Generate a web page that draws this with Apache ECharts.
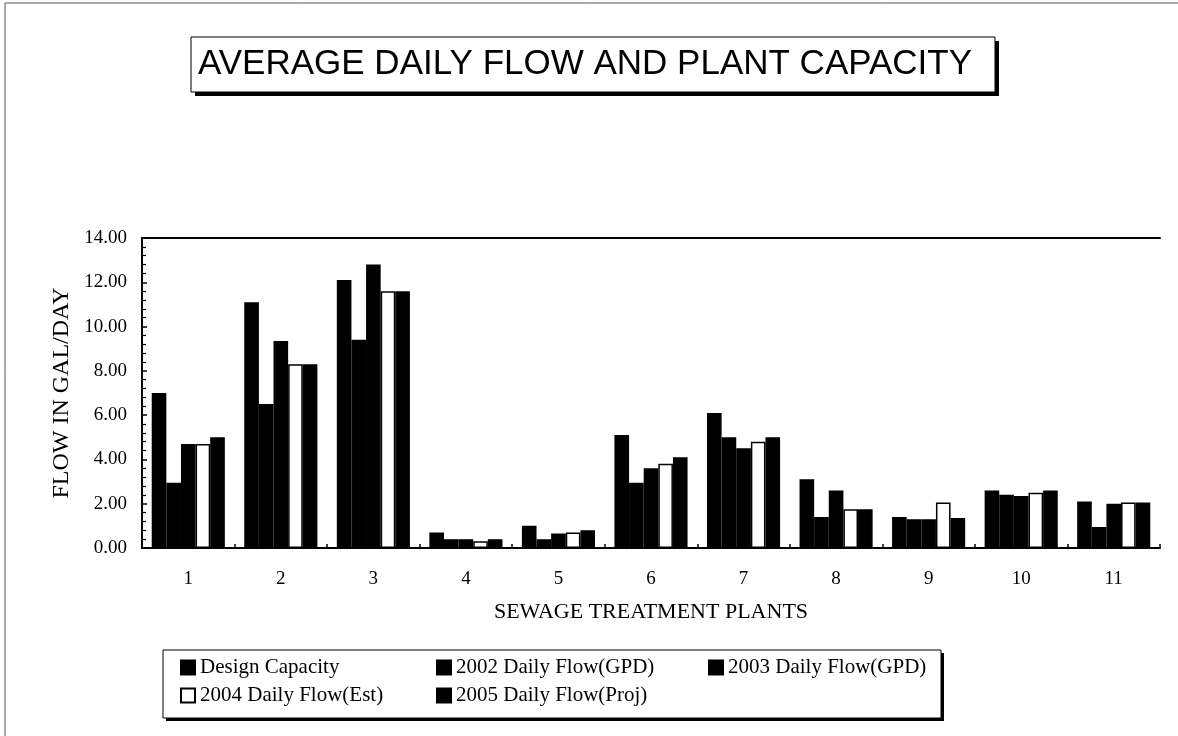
<!DOCTYPE html>
<html>
<head>
<meta charset="utf-8">
<script src="https://cdn.jsdelivr.net/npm/echarts@6/dist/echarts.min.js"></script>
<style>
html,body{margin:0;padding:0;background:#fff;}
#chart{width:1178px;height:736px;}
</style>
</head>
<body>
<div id="chart"></div>
<script>
const titleText = 'AVERAGE DAILY FLOW AND PLANT CAPACITY';
const yAxisName = 'FLOW IN GAL/DAY';
const xAxisName = 'SEWAGE TREATMENT PLANTS';
const plants = ['1','2','3','4','5','6','7','8','9','10','11'];
const seriesNames = ['Design Capacity','2002 Daily Flow(GPD)','2003 Daily Flow(GPD)','2004 Daily Flow(Est)','2005 Daily Flow(Proj)'];
const designCapacity = [7.0, 11.1, 12.1, 0.7, 1.0, 5.1, 6.1, 3.1, 1.4, 2.6, 2.1];
const flow2002 = [2.95, 6.5, 9.4, 0.4, 0.4, 2.95, 5.0, 1.4, 1.3, 2.4, 0.95];
const flow2003 = [4.7, 9.35, 12.8, 0.4, 0.65, 3.6, 4.5, 2.6, 1.3, 2.35, 2.0];
const flow2004 = [4.7, 8.3, 11.6, 0.3, 0.7, 3.8, 4.8, 1.75, 2.05, 2.5, 2.05];
const flow2005 = [5.0, 8.3, 11.6, 0.4, 0.8, 4.1, 5.0, 1.75, 1.35, 2.6, 2.05];
const seriesValues = [designCapacity, flow2002, flow2003, flow2004, flow2005];
const seriesFill = ['#000000','#000000','#000000','#ffffff','#000000'];

const serif = 'Liberation Serif, Times New Roman, serif';
const chart = echarts.init(document.getElementById('chart'));

const series = seriesNames.map((name, i) => ({
  name: name,
  type: 'bar',
  data: seriesValues[i],
  barGap: '0%',
  barCategoryGap: '21%',
  itemStyle: { color: seriesFill[i], borderColor: '#000', borderWidth: 1.5 }
}));

const legendBase = {
  orient: 'vertical',
  top: 657,
  padding: 0,
  itemWidth: 14,
  itemHeight: 14,
  itemGap: 7,
  icon: 'rect',
  selectedMode: false,
  textStyle: { fontFamily: serif, fontSize: 21, color: '#000', lineHeight: 21 }
};

function shadowBox(x, y, w, h, off) {
  return [
    { type: 'rect', z: 0, silent: true, shape: { x: x + off, y: y + off, width: w, height: h }, style: { fill: '#000' } },
    { type: 'rect', z: 1, silent: true, shape: { x: x, y: y, width: w, height: h }, style: { fill: '#fff', stroke: '#000', lineWidth: 1 } }
  ];
}

chart.setOption({
  animation: false,
  backgroundColor: '#fff',
  title: {
    text: titleText,
    left: 198,
    top: 46,
    padding: 0,
    z: 10,
    textStyle: { fontFamily: 'Liberation Sans, Arial, sans-serif', fontSize: 35, fontWeight: 'normal', color: '#000', lineHeight: 36 }
  },
  graphic: [
    { type: 'polyline', z: 0, silent: true, shape: { points: [[5, 736], [5, 3], [1178, 3]] }, style: { stroke: '#555', lineWidth: 1, fill: null } }
  ].concat(shadowBox(191, 37, 804, 55, 4), shadowBox(163, 650, 778, 68, 3)),
  legend: [
    Object.assign({}, legendBase, { left: 180, data: [seriesNames[0], seriesNames[3]] }),
    Object.assign({}, legendBase, { left: 436, data: [seriesNames[1], seriesNames[4]] }),
    Object.assign({}, legendBase, { left: 708, data: [seriesNames[2]] })
  ],
  grid: { left: 142, right: 18, top: 238, bottom: 188, containLabel: false },
  xAxis: [
    {
      type: 'category',
      data: plants,
      name: xAxisName,
      nameLocation: 'middle',
      nameGap: 53,
      nameTextStyle: { fontFamily: serif, fontSize: 22, color: '#000' },
      axisLine: { lineStyle: { color: '#000', width: 2 } },
      axisTick: { show: true, inside: true, length: 4, lineStyle: { color: '#000', width: 1.5 } },
      axisLabel: { fontFamily: serif, fontSize: 19, color: '#000', margin: 22 },
      splitLine: { show: false }
    },
    {
      type: 'category',
      data: plants,
      position: 'top',
      axisLine: { show: true, lineStyle: { color: '#000', width: 2 } },
      axisTick: { show: false },
      axisLabel: { show: false },
      splitLine: { show: false }
    }
  ],
  yAxis: {
    type: 'value',
    min: 0,
    max: 14,
    interval: 2,
    name: yAxisName,
    nameLocation: 'middle',
    nameGap: 68,
    nameTextStyle: { fontFamily: serif, fontSize: 24, color: '#000' },
    axisLine: { show: true, lineStyle: { color: '#000', width: 2 } },
    axisTick: { show: true, inside: true, length: 5, lineStyle: { color: '#000', width: 1.5 } },
    minorTick: { show: true, splitNumber: 5, length: 4, lineStyle: { color: '#000', width: 1.2 } },
    axisLabel: { fontFamily: serif, fontSize: 19, color: '#000', margin: 15, formatter: v => v.toFixed(2) },
    splitLine: { show: false }
  },
  series: series
});
</script>
</body>
</html>
